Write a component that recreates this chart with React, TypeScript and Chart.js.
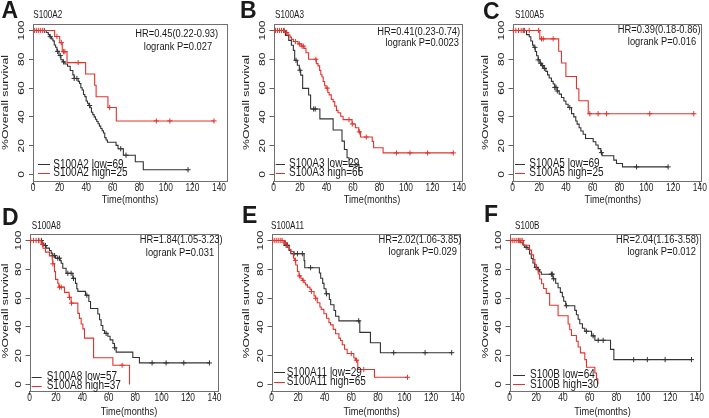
import React, { useEffect, useRef } from 'react';
import { Chart, registerables } from 'chart.js';
Chart.register(...registerables);

// ---------------- data (months, % survival) ----------------
const X_TICK_STEP = 20;
const Y_TICK_STEP = 20;

// A: S100A2
const A_LOW_T = [10, 11.5, 12.5, 14, 15, 16, 17, 18, 19.5, 21, 22.5, 24, 26, 28, 30, 31, 34, 35, 36, 37, 38, 39, 40, 41, 42, 43, 44, 45, 46, 47, 48, 49, 50, 51, 52, 53, 54, 55, 56, 62.5, 64, 68, 77, 83];
const A_LOW_S = [98.6, 97.1, 95.7, 94.2, 92.8, 89.9, 88.4, 85.5, 82.6, 79.7, 78.2, 76.7, 75.2, 72.2, 69.2, 66.7, 64.7, 63.2, 60.2, 58.7, 55.6, 54.1, 51.0, 49.5, 47.9, 46.4, 43.2, 41.6, 40.0, 38.4, 36.8, 35.2, 33.6, 32.0, 30.4, 28.8, 25.6, 24.0, 22.4, 20.2, 17.9, 13.4, 8.9, 3.3];
const A_LOW_C = [8.5, 13, 18.5, 20.5, 23, 31, 33, 42.6, 66, 70, 116.7];
const A_HIGH_T = [16.3, 20.1, 22, 25.6, 39.6, 46.4, 47.5, 56.4, 62.7];
const A_HIGH_S = [95.8, 91.6, 85.3, 77.7, 69.8, 62.0, 54.0, 46.5, 37.2];
const A_HIGH_C = [1, 2.5, 4, 5.5, 7, 18, 21.3, 23, 24, 34, 57.7, 92.8, 103, 136.2];

// B: S100A3
const B_LOW_T = [9, 11.5, 13.5, 15, 16, 18, 19.5, 20.5, 22, 26.5, 28, 35, 45, 51.7, 53.5, 55.5, 57, 64.5];
const B_LOW_S = [96.6, 93.1, 89.7, 86.2, 79.3, 75.9, 72.4, 69.0, 59.8, 55.2, 45.5, 38.6, 30.9, 23.2, 17.4, 11.6, 6.9, 0];
const B_LOW_C = [8, 17, 20, 30.3, 31.5];
const B_HIGH_T = [9.5, 11, 12.5, 13.5, 15, 18.5, 21, 23, 24.5, 26.5, 32.3, 33.6, 34.8, 35.7, 36.6, 37.5, 38.6, 39.7, 41, 42, 43.6, 45, 46.2, 47.5, 48.7, 50.7, 52.5, 59.3, 61.8, 64.3, 65.6, 74.5, 75.5, 82.7];
const B_HIGH_S = [98.5, 96.9, 95.4, 93.8, 92.3, 90.7, 89.1, 87.6, 84.5, 80.0, 77.0, 75.4, 72.3, 69.3, 67.7, 64.6, 61.6, 60.0, 56.9, 55.3, 52.2, 50.6, 47.5, 44.5, 42.9, 40.5, 38.1, 35.1, 32.5, 29.6, 26.0, 23.0, 18.6, 15.0];
const B_HIGH_C = [1.5, 3, 4.5, 6, 7.5, 10, 16.5, 19.5, 21.5, 22.5, 32, 40.5, 57, 59.5, 64.8, 70, 92.8, 103, 116.3, 135.7];

// C: S100A5
const C_LOW_T = [10.5, 12.5, 13.7, 15, 16, 17, 18, 19.2, 20.4, 21.7, 23.4, 24.9, 26.2, 27.4, 29.1, 30.4, 31.6, 33.4, 34.9, 36.6, 38.4, 39.9, 41.6, 44.1, 45.8, 47.3, 48.3, 49.8, 51.1, 52.8, 54.6, 60.3, 62.3, 64, 66, 67, 75.7, 77.7, 82.2];
const C_LOW_S = [97.1, 95.6, 92.7, 89.8, 88.3, 85.4, 82.5, 79.6, 77.3, 75.6, 73.7, 71.6, 69.2, 67.0, 64.7, 62.8, 60.5, 58.0, 55.8, 53.5, 51.0, 48.8, 46.5, 42.3, 40.0, 37.2, 35.0, 32.5, 30.2, 28.0, 25.0, 22.8, 20.5, 18.0, 15.2, 13.0, 10.0, 7.7, 5.3];
const C_LOW_C = [8, 16.7, 19.2, 21, 22.5, 23.8, 31.6, 32.5, 33.5, 42.8, 66.5, 92.7, 116.3];
const C_HIGH_T = [20.4, 34.5, 36.6, 39.9, 47.8, 49.6, 56.6];
const C_HIGH_S = [94.2, 85.6, 77.4, 68.1, 59.5, 51.2, 42.2];
const C_HIGH_C = [0.5, 2.5, 4.5, 6.5, 9, 12.5, 19.5, 21.7, 23, 30.4, 57.8, 64, 70.3, 102.6, 135.5];

// D: S100A8
const D_LOW_T = [9.6, 10.8, 12.6, 15.1, 16.4, 17.2, 19.7, 23.2, 24, 25.2, 27.7, 32.8, 34.8, 35.8, 36.6, 42.4, 44.9, 46.2, 51.7, 53, 54.2, 55.5, 56.8, 59.3, 61, 63.1, 64.3, 65.6, 78.2, 83.2];
const D_LOW_S = [98.2, 96.5, 94.7, 93.0, 91.2, 89.5, 87.7, 86.0, 84.2, 80.7, 77.2, 73.7, 70.2, 66.5, 64.7, 62.0, 57.6, 52.8, 49.0, 45.0, 41.0, 37.5, 35.5, 33.5, 31.0, 28.5, 25.5, 22.5, 18.8, 15.0];
const D_LOW_C = [7, 9, 12.1, 17.7, 19, 21.4, 22.7, 29, 31.5, 33.3, 43.4, 58, 64.5, 92.8, 103.4, 116.8, 136.2];
const D_HIGH_T = [8.8, 10.2, 12.1, 15.1, 17.2, 17.7, 18.9, 19.7, 21.4, 22.2, 26.5, 30, 31.5, 36.6, 37.8, 39.1, 40.4, 41.6, 48.5, 63.1, 75.7];
const D_HIGH_S = [97.3, 94.6, 91.9, 89.2, 86.5, 83.8, 78.4, 73.0, 70.3, 67.6, 64.0, 60.5, 56.5, 49.4, 45.9, 42.0, 38.6, 32.2, 18.6, 13.4, 0];
const D_HIGH_C = [1, 3, 5, 7, 10, 17.7, 22.7, 24, 30.3, 31.8, 70.1];

// E: S100A11
const E_LOW_T = [9.5, 13.2, 14.5, 24.5, 25, 36, 37, 38.5, 39.5, 41, 43.5, 44.5, 47, 48.2, 50.7, 66.4, 74.4, 81.9];
const E_LOW_S = [96.6, 93.1, 90.8, 86.0, 81.1, 77.4, 73.8, 70.2, 66.5, 63.0, 59.0, 55.4, 51.4, 47.4, 44.2, 36.2, 29.0, 22.1];
const E_LOW_C = [11, 12, 17, 19.5, 23.2, 29.4, 41.4, 65.6, 91.9, 115.5, 135.5];
const E_HIGH_T = [9.5, 11, 12, 13.2, 14.5, 16.5, 17.5, 18.2, 19.5, 20.7, 22, 23.2, 24.5, 25.7, 27, 28.9, 30, 32, 33.2, 34.4, 36.4, 37.4, 39.4, 41.4, 43.2, 44.4, 46.4, 48.2, 50.7, 51.9, 53.2, 54.9, 56.9, 61.9, 63.1, 64.9, 77.4];
const E_HIGH_S = [98.4, 96.9, 95.3, 93.8, 92.3, 87.7, 86.2, 83.0, 78.5, 75.4, 73.8, 72.3, 70.7, 69.2, 67.6, 66.1, 64.6, 61.5, 59.9, 56.8, 53.8, 52.2, 49.1, 46.0, 43.0, 41.4, 38.3, 35.2, 32.2, 30.6, 27.6, 24.5, 21.5, 18.4, 16.9, 10.4, 5.0];
const E_HIGH_C = [1, 2.5, 4, 5.5, 7, 8, 10.5, 18, 21, 23.8, 30, 33.2, 60, 63.9, 69.4, 102.3];

// F: S100B
const F_LOW_T = [8, 10, 11.3, 13.8, 15, 16.3, 17.5, 18.8, 21.3, 22.5, 23.8, 32.5, 34.5, 36.3, 38, 39.5, 40.5, 42, 48.8, 50, 51.3, 52.5, 54.5, 56.3, 61.3, 63.8, 75.5, 78];
const F_LOW_S = [98.4, 96.9, 95.3, 93.8, 90.6, 87.5, 84.4, 81.3, 79.7, 78.1, 76.6, 73.4, 70.3, 67.2, 64.0, 60.9, 57.8, 54.7, 51.5, 48.4, 45.3, 42.2, 39.1, 37.0, 33.8, 30.7, 24.4, 17.3];
const F_LOW_C = [7, 12.5, 20, 21.5, 31.3, 32, 33, 42.5, 57.5, 62.5, 66.3, 70, 92.8, 103, 116.3, 136];
const F_HIGH_T = [10.5, 15, 16.5, 18, 19, 20, 21.5, 22.5, 24, 25.5, 27.5, 30, 36.3, 43.8, 45, 46.3, 50, 51.3, 53, 56.3, 57.5, 63.8, 65, 66];
const F_HIGH_S = [96.7, 93.3, 90.0, 86.7, 83.3, 80.0, 76.7, 73.3, 70.0, 66.7, 63.3, 55.0, 47.7, 42.0, 38.0, 34.0, 30.0, 26.0, 22.0, 17.3, 12.0, 8.0, 4.0, 0];
const F_HIGH_C = [1, 2.5, 4, 5.5, 7, 8.5, 9.5];

const LETTERS = ['A', 'B', 'C', 'D', 'E', 'F'];
const GENES = ['S100A2', 'S100A3', 'S100A5', 'S100A8', 'S100A11', 'S100B'];
const HRS = ['HR=0.45(0.22-0.93)', 'HR=0.41(0.23-0.74)', 'HR=0.39(0.18-0.86)', 'HR=1.84(1.05-3.23)', 'HR=2.02(1.06-3.85)', 'HR=2.04(1.16-3.58)'];
const PVALS = ['logrank P=0.027', 'logrank P=0.0023', 'logrank P=0.016', 'logrank P=0.031', 'logrank P=0.029', 'logrank P=0.012'];
const N_LOW = [69, 29, 69, 57, 29, 64];
const N_HIGH = [25, 65, 25, 37, 65, 30];

const SERIES = [
  [A_LOW_T, A_LOW_S, A_LOW_C, A_HIGH_T, A_HIGH_S, A_HIGH_C],
  [B_LOW_T, B_LOW_S, B_LOW_C, B_HIGH_T, B_HIGH_S, B_HIGH_C],
  [C_LOW_T, C_LOW_S, C_LOW_C, C_HIGH_T, C_HIGH_S, C_HIGH_C],
  [D_LOW_T, D_LOW_S, D_LOW_C, D_HIGH_T, D_HIGH_S, D_HIGH_C],
  [E_LOW_T, E_LOW_S, E_LOW_C, E_HIGH_T, E_HIGH_S, E_HIGH_C],
  [F_LOW_T, F_LOW_S, F_LOW_C, F_HIGH_T, F_HIGH_S, F_HIGH_C],
];

// ---------------- layout (page pixels) ----------------
const W = 709;
const H = 418;
const FONT = '"Liberation Sans", Arial, Helvetica, sans-serif';
const SX = 0.8;
const BLACK = '#333333';
const RED = '#e5322d';
const TEXT = '#1a1a1a';

type Geo = {
  L: number; T: number; R: number; B: number; xMax: number;
  letter: [number, number]; title: [number, number];
  hr: [number, number]; lr: [number, number];
  leg: { x1: number; x2: number; tx: number; y1: number; y2: number };
  xlab: [number, number]; ylab: [number, number]; xtY: number;
};

const GEO: Geo[] = [
  { L: 33, T: 24, R: 227, B: 181, xMax: 146, letter: [1.5, 17.5], title: [33.3, 15], hr: [176.7, 34], lr: [178, 46.7],
    leg: { x1: 38, x2: 50, tx: 53.3, y1: 164.3, y2: 172.7 }, xlab: [130, 200.3], ylab: [5, 102.5], xtY: 188 },
  { L: 273.5, T: 24, R: 461, B: 181, xMax: 141.5, letter: [240, 18], title: [275, 15], hr: [418.7, 31.7], lr: [422.2, 42.7],
    leg: { x1: 275.7, x2: 285, tx: 289, y1: 164, y2: 172.7 }, xlab: [372, 200.3], ylab: [246.7, 102.5], xtY: 188 },
  { L: 512.5, T: 24, R: 700.5, B: 181, xMax: 140.5, letter: [483, 19], title: [515, 15], hr: [659.2, 30], lr: [662, 41.7],
    leg: { x1: 515, x2: 525, tx: 529.3, y1: 164, y2: 172.7 }, xlab: [612.8, 200.3], ylab: [485.7, 102.5], xtY: 188 },
  { L: 29.5, T: 234, R: 217.5, B: 391, xMax: 142.3, letter: [2, 225], title: [31.7, 225.7], hr: [181.2, 240], lr: [180, 252.3],
    leg: { x1: 31.7, x2: 41.7, tx: 46.7, y1: 376.7, y2: 386 }, xlab: [129, 411.7], ylab: [5.7, 311], xtY: 398 },
  { L: 271.5, T: 234, R: 459, B: 391, xMax: 141, letter: [242, 223], title: [271, 226], hr: [420, 240], lr: [422.8, 251.7],
    leg: { x1: 274, x2: 285, tx: 286.7, y1: 372.3, y2: 381.7 }, xlab: [371.7, 411.7], ylab: [246.7, 311], xtY: 398 },
  { L: 509.5, T: 234, R: 699.5, B: 391, xMax: 142, letter: [484, 222], title: [515, 225.7], hr: [657.5, 240], lr: [661.7, 251.7],
    leg: { x1: 513, x2: 525, tx: 530, y1: 375, y2: 384.3 }, xlab: [602.5, 411.7], ylab: [485, 311], xtY: 398 },
];

// ---------------- helpers ----------------
function survAt(T: number[], S: number[], t: number) {
  let s = 100;
  for (let i = 0; i < T.length; i++) if (T[i] <= t) s = S[i];
  return s;
}
function curve(T: number[], S: number[], C: number[]) {
  const pts = [{ x: 0, y: 100 }];
  T.forEach((t, i) => pts.push({ x: t, y: S[i] }));
  const end = Math.max(...C, T[T.length - 1]);
  const last = pts[pts.length - 1];
  if (end > last.x) pts.push({ x: end, y: last.y });
  return pts;
}
function censors(T: number[], S: number[], C: number[]) {
  return C.map((c) => ({ x: c, y: survAt(T, S, c) }));
}

function txt(ctx: CanvasRenderingContext2D, s: string, x: number, y: number,
  o: { size: number; bold?: boolean; align?: CanvasTextAlign; base?: CanvasTextBaseline; rot?: boolean; sx?: number }) {
  ctx.save();
  ctx.translate(x, y);
  ctx.scale(o.sx ?? SX, 1);
  if (o.rot) ctx.rotate(-Math.PI / 2);
  ctx.font = `${o.bold ? 'bold ' : ''}${o.size}px ${FONT}`;
  ctx.textAlign = o.align ?? 'center';
  ctx.textBaseline = o.base ?? 'middle';
  ctx.fillStyle = TEXT;
  ctx.fillText(s, 0, 0);
  ctx.restore();
}

function makeChart(canvas: HTMLCanvasElement, i: number) {
  const g = GEO[i];
  const [lt, ls, lc, ht, hs, hc] = SERIES[i];
  const deco = {
    id: 'deco' + i,
    beforeDatasetsDraw(chart: any) {
      const ctx = chart.ctx as CanvasRenderingContext2D;
      const a = chart.chartArea;
      ctx.save();
      ctx.strokeStyle = '#707070';
      ctx.lineWidth = 1;
      ctx.strokeRect(Math.round(a.left) + 0.5, Math.round(a.top) + 0.5, Math.round(a.right - a.left), Math.round(a.bottom - a.top));
      ctx.restore();
    },
    afterDraw(chart: any) {
      const ctx = chart.ctx as CanvasRenderingContext2D;
      const xs = chart.scales.x;
      const ys = chart.scales.y;
      xs.ticks.forEach((t: any) => txt(ctx, String(t.value), xs.getPixelForValue(t.value), g.xtY, { size: 10.5 }));
      ys.ticks.forEach((t: any) => txt(ctx, String(t.value), chart.chartArea.left - 11.5, ys.getPixelForValue(t.value), { size: 12, rot: true }));
      txt(ctx, 'Time(months)', g.xlab[0], g.xlab[1], { size: 11.5 });
      txt(ctx, '%Overall survival', g.ylab[0], g.ylab[1], { size: 12.3, rot: true });
      txt(ctx, LETTERS[i], g.letter[0], g.letter[1], { size: 23, bold: true, align: 'left', base: 'alphabetic', sx: 1 });
      txt(ctx, GENES[i], g.title[0], g.title[1], { size: 10.2, align: 'left' });
      txt(ctx, HRS[i], g.hr[0], g.hr[1], { size: 11.7 });
      txt(ctx, PVALS[i], g.lr[0], g.lr[1], { size: 11.7 });
      const lg = g.leg;
      ctx.save();
      ctx.lineWidth = 1;
      ctx.strokeStyle = BLACK;
      ctx.beginPath(); ctx.moveTo(lg.x1, Math.round(lg.y1) + 0.5); ctx.lineTo(lg.x2, Math.round(lg.y1) + 0.5); ctx.stroke();
      ctx.strokeStyle = RED;
      ctx.beginPath(); ctx.moveTo(lg.x1, Math.round(lg.y2) + 0.5); ctx.lineTo(lg.x2, Math.round(lg.y2) + 0.5); ctx.stroke();
      ctx.restore();
      txt(ctx, `${GENES[i]} low=${N_LOW[i]}`, lg.tx, lg.y1, { size: 12.5, align: 'left' });
      txt(ctx, `${GENES[i]} high=${N_HIGH[i]}`, lg.tx, lg.y2, { size: 12.5, align: 'left' });
    },
  };
  const lineDs = (data: any[], color: string) => ({
    data, borderColor: color, backgroundColor: color, borderWidth: 1.1, pointRadius: 0,
    stepped: 'before' as const, fill: false, tension: 0,
  });
  const cenDs = (data: any[], color: string) => ({
    data, borderColor: color, backgroundColor: color, showLine: false, pointStyle: 'cross' as const,
    pointRadius: 2.6, pointBorderWidth: 1, pointHoverRadius: 2.6,
  });
  return new Chart(canvas, {
    type: 'line',
    data: {
      datasets: [
        cenDs(censors(ht, hs, hc), RED),
        lineDs(curve(ht, hs, hc), RED),
        cenDs(censors(lt, ls, lc), BLACK),
        lineDs(curve(lt, ls, lc), BLACK),
      ] as any,
    },
    options: {
      responsive: false,
      animation: false,
      devicePixelRatio: 1,
      events: [],
      layout: { padding: { left: g.L, top: g.T, right: W - g.R, bottom: H - g.B } },
      plugins: { legend: { display: false }, tooltip: { enabled: false }, title: { display: false } },
      scales: {
        x: {
          type: 'linear', min: 0, max: g.xMax,
          ticks: { display: false, stepSize: X_TICK_STEP, includeBounds: false },
          grid: { display: true, drawOnChartArea: false, drawTicks: true, tickLength: 4, color: '#606060', lineWidth: 1 },
          border: { display: false },
          afterFit: (s: any) => { s.height = 0; },
        },
        y: {
          type: 'linear', min: -4.5, max: 104.5,
          ticks: { display: false, stepSize: Y_TICK_STEP, includeBounds: false },
          grid: { display: true, drawOnChartArea: false, drawTicks: true, tickLength: 4, color: '#606060', lineWidth: 1 },
          border: { display: false },
          afterFit: (s: any) => { s.width = 0; },
        },
      },
    } as any,
    plugins: [deco],
  });
}

function Panel({ i }: { i: number }) {
  const ref = useRef<HTMLCanvasElement>(null);
  useEffect(() => {
    if (!ref.current) return;
    const c = makeChart(ref.current, i);
    return () => c.destroy();
  }, [i]);
  return <canvas ref={ref} width={W} height={H} style={{ position: 'absolute', left: 0, top: 0, width: W, height: H }} />;
}

export default function App() {
  return (
    <div style={{ position: 'absolute', left: 0, top: 0, width: W, height: H, background: '#fff', overflow: 'hidden' }}>
      {LETTERS.map((_, i) => <Panel key={i} i={i} />)}
    </div>
  );
}
